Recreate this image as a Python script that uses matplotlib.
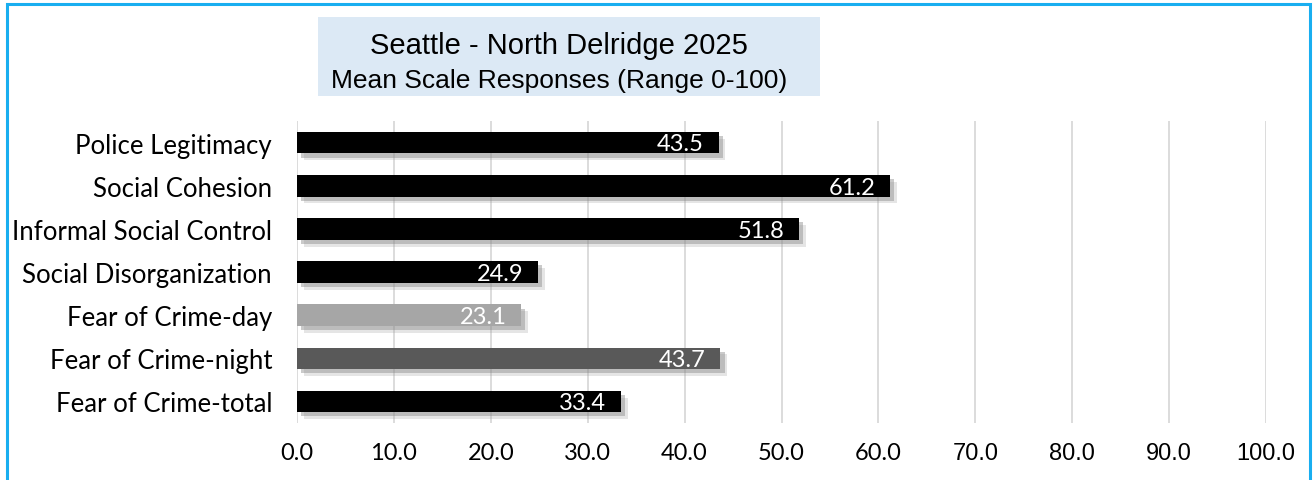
import matplotlib.pyplot as plt
import matplotlib.patheffects as pe
from matplotlib.patches import Rectangle


categories = ['Police Legitimacy', 'Social Cohesion', 'Informal Social Control',
              'Social Disorganization', 'Fear of Crime-day', 'Fear of Crime-night',
              'Fear of Crime-total']
values = [43.5, 61.2, 51.8, 24.9, 23.1, 43.7, 33.4]
bar_colors = ['#000000', '#000000', '#000000', '#000000', '#a6a6a6', '#595959', '#000000']
xticks = [0, 10, 20, 30, 40, 50, 60, 70, 80, 90, 100]

gothic = 'Lato'
arial = 'Liberation Sans'

fig = plt.figure(figsize=(13.15, 4.81), dpi=100)
fig.patch.set_facecolor('white')

# blue frame round the chart
fig.patches.append(Rectangle((7 / 1315, -0.1), 1303 / 1315, 1.1 - 5 / 481,
                             transform=fig.transFigure, fill=False,
                             edgecolor='#19aef0', linewidth=2.2))

# title box
fig.patches.append(Rectangle((318 / 1315, 1 - 97 / 481), 502 / 1315, 79 / 481,
                             transform=fig.transFigure, facecolor='#dce9f5',
                             edgecolor='none'))
fig.text(559 / 1315, 1 - 54 / 481, 'Seattle - North Delridge 2025', ha='center',
         va='baseline', fontsize=21, family=arial)
fig.text(559 / 1315, 1 - 88 / 481, 'Mean Scale Responses (Range 0-100)', ha='center',
         va='baseline', fontsize=19, family=arial)

ax = fig.add_axes([297 / 1315, 57 / 481, 969 / 1315, 302 / 481])
ypos = list(range(len(categories)))
shadow = [pe.SimplePatchShadow(offset=(5, -5), shadow_rgbFace='#9a9a9a', alpha=0.25),
          pe.SimplePatchShadow(offset=(3, -3), shadow_rgbFace='#8a8a8a', alpha=0.45),
          pe.Normal()]
bars = ax.barh(ypos, values, height=0.5, color=bar_colors, zorder=3)
for b in bars:
    b.set_path_effects(shadow)

for y, v in zip(ypos, values):
    ax.text(v - 1.5, y + 0.03, f'{v:.1f}', ha='right', va='center', color='white',
            fontsize=17, family=gothic, zorder=4)

ax.set_xlim(0, 100)
ax.set_ylim(len(categories) - 0.5, -0.5)
ax.set_yticks(ypos)
ax.set_yticklabels(categories, fontsize=18.5, family=gothic)
ax.set_xticks(xticks)
ax.set_xticklabels([f'{t:.1f}' for t in xticks], fontsize=17)
for lbl, t in zip(ax.get_xticklabels(), xticks):
    lbl.set_family(gothic if t <= 60 else arial)
ax.tick_params(axis='both', length=0)
ax.tick_params(axis='y', pad=18)
ax.tick_params(axis='x', pad=14)
ax.grid(axis='x', color='#d9d9d9', linewidth=1.3, zorder=0)
for s in ax.spines.values():
    s.set_visible(False)

fig.savefig('out.png', dpi=100)
